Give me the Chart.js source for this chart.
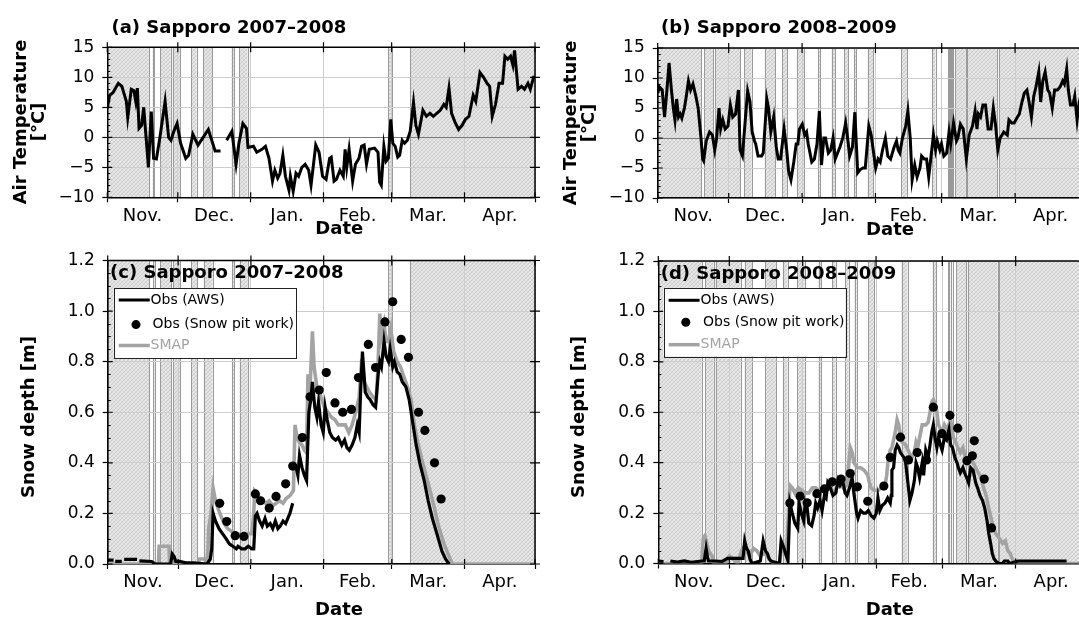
<!DOCTYPE html>
<html>
<head>
<meta charset="utf-8">
<script src="https://cdn.jsdelivr.net/npm/chart.js@4.4.0/dist/chart.umd.min.js"></script>
<style>
  html, body { margin: 0; padding: 0; background: #fff; overflow: hidden; width: 1079px; height: 619px; }
  .panel { position: absolute; }
</style>
</head>
<body>
<div class="panel" style="left:0;top:0"><canvas id="pa" width="540" height="240"></canvas></div>
<div class="panel" style="left:540px;top:0"><canvas id="pb" width="560" height="240"></canvas></div>
<div class="panel" style="left:0;top:240px"><canvas id="pc" width="540" height="379"></canvas></div>
<div class="panel" style="left:540px;top:240px"><canvas id="pd" width="560" height="379"></canvas></div>
<script>
// ---- time axis: days counted from 1 November ----
const MONTH_LABELS = ['Nov.', 'Dec.', 'Jan.', 'Feb.', 'Mar.', 'Apr.'];
const MONTH_STARTS_0708 = [0, 30, 61, 92, 121, 152, 182];
const MONTH_STARTS_0809 = [0, 30, 61, 92, 120, 151, 181];

const TEMP_TICKS = [-10, -5, 0, 5, 10, 15];
const SNOW_TICKS = [0, 0.2, 0.4, 0.6, 0.8, 1.0, 1.2];

// ---- periods shaded in grey ----
const SHADE_0708 = [[0, 17.7], [19.3, 20.0], [22.4, 27.0], [27.8, 30.9], [35.6, 38.0], [40.9, 44.7],
  [52.9, 53.9], [56.2, 59.7], [119.6, 121.0], [128.9, 182]];
const SHADE_0809 = [[0, 18.3], [19.7, 23.4], [24.2, 34.8], [36.5, 39.7], [45.2, 49.7],
  [52.6, 54.6], [58.8, 61.8], [67.7, 68.7], [73.5, 74.9], [78.9, 80.4], [82.9, 83.8], [88.7, 91.1],
  [102.8, 105.3], [115.9, 117.4], [122.6, 122.9], [123.5, 123.8], [124.4, 124.7], [125.8, 130.2],
  [130.7, 143.4], [144.1, 181]];

// ---- daily mean air temperature, Sapporo 2007-2008 ----
const TEMP_0708_DAY = [0, 1.0, 2.5, 4.7, 6.2, 8.1, 8.7, 10.2, 11.3, 12.1, 12.8, 13.5, 14.6, 15.5, 16.5, 17.5,
  18.7, 19.7, 20.9, 22.4, 24.6, 26.1, 27.1, 28.3, 29.7, 31.2, 33.4, 34.6, 36.4, 38.6, 40.8, 43.0, 45.9, 48.2,
  49.5, 50.8, 53.0, 54.8, 56.0, 57.7, 59.2, 59.9, 62.2, 63.6, 65.8, 67.3, 68.8, 70.3, 71.3, 72.5, 73.5, 74.7,
  75.8, 77.3, 77.9, 79.1, 80.3, 81.4, 82.8, 84.2, 85.7, 86.7, 88.7, 90.1, 91.6, 93.1, 94.6, 95.3, 96.5, 97.5,
  99.0, 100.4, 101.2, 101.9, 102.9, 104.4, 105.6, 107.1, 108.2, 109.3, 110.3, 111.5, 113.7, 115.2, 115.9,
  116.6, 117.7, 118.6, 119.6, 120.6, 121.5, 122.5, 123.6, 124.4, 125.5, 126.5, 127.7, 128.9, 130.3, 131.3,
  132.4, 133.6, 134.3, 135.8, 137.3, 138.7, 140.2, 141.7, 143.2, 144.2, 145.4, 146.5, 148.0, 149.5, 151.0,
  152.4, 153.9, 155.7, 156.8, 158.6, 160.1, 161.6, 162.7, 163.8, 165.2, 166.7, 168.2, 169.2, 170.4, 171.6,
  172.6, 173.3, 174.8, 176.3, 177.5, 179.0, 180.0, 181.4, 182];
const TEMP_0708 = [4.8, 7, 7.5, 9, 8.5, 6, 3.3, 8, 7.8, 6, 8.2, 1.5, 2, 5, 0, -5,
  4.3, -3.5, -3.6, 0, 6, 0, -0.5, 1, 2.3, -1, -3.5, -3, 0.5, -1.3, 0, 1.3, -2.3, -2.3,
  null, -0.5, 1, -4.5, -1, 2.3, 1.5, -1.7, -1.5, -2.5, -2, -1.5, -3.5, -7.3, -5.5, -6.8, -6, -3,
  -6.5, -8.8, -6.5, -9, -6, -6.5, -5, -4.5, -5.5, -8, -1.3, -2.5, -6.5, -7, -3.5, -3.3, -7.3, -7,
  -5.5, -6.5, -2, -5, -2, -7.3, -4.5, -3.5, -1.5, -1.3, -4.5, -2, -1.8, -2.5, -7.5,
  -8, -1.5, -4, -3.5, 3, -1, -1.5, -3.3, -3, -0.5, -1, -0.5, 1, 5.8, 2,
  0.5, 3, 4.5, 3.5, 4, 3.5, 4, 4.5, 5.5, 5, 8.2, 4, 2.5, 1.3, 2,
  3, 3.5, 7, 6, 10.8, 10, 9, 8.5, 3.5, 5.5, 9, 9, 13.5, 13, 13.5,
  12, 14.5, 8, 8.5, 8, 9, 8, 10, 10];

// ---- daily mean air temperature, Sapporo 2008-2009 ----
const TEMP_0809_DAY = [0, 0.7, 1.9, 2.9, 3.9, 4.8, 5.8, 6.6, 7.3, 8.0, 8.8, 9.5, 10.2, 11.3, 12.1, 13.0, 13.9,
  14.9, 16.1, 17.1, 18.3, 19.0, 19.4, 20.5, 21.9, 23.1, 24.1, 24.9, 25.9, 26.6, 27.5, 28.5, 29.7, 30.7, 31.7,
  32.9, 34.1, 34.8, 35.8, 37.0, 38.0, 39.0, 39.9, 40.9, 41.4, 42.4, 43.9, 44.6, 46.1, 46.8, 47.8, 49.0, 50.1,
  50.9, 51.9, 53.4, 54.5, 55.3, 56.3, 57.5, 58.5, 59.2, 59.9, 61.1, 62.1, 62.9, 63.6, 65.1, 66.2, 67.3, 68.3,
  69.2, 70.2, 70.9, 72.1, 73.1, 74.1, 75.0, 76.0, 77.0, 78.2, 79.4, 80.4, 81.1, 82.3, 83.3, 84.5, 85.5, 86.7,
  87.7, 89.2, 90.2, 91.4, 92.1, 93.1, 94.0, 95.0, 96.2, 97.2, 98.4, 99.9, 100.9, 101.6, 102.3, 103.4, 104.8,
  105.7, 106.7, 107.5, 108.6, 109.6, 110.8, 111.5, 112.6, 113.6, 114.5, 115.5, 116.5, 117.4, 118.1, 119.2,
  119.9, 120.9, 122.1, 123.1, 123.8, 125.0, 126.2, 126.8, 127.9, 129.1, 130.4, 131.6, 133.0, 134.1, 134.9,
  135.5, 136.4, 137.4, 138.5, 139.6, 140.8, 141.8, 142.8, 143.7, 144.7, 146.2, 147.7, 148.4, 149.6, 150.6,
  152.0, 152.8, 153.9, 154.9, 156.0, 156.9, 157.9, 158.9, 159.8, 161.0, 161.8, 162.7, 163.7, 164.8, 165.6,
  166.7, 167.7, 168.9, 170.0, 171.1, 171.8, 172.8, 173.5, 174.4, 175.4, 176.2, 177.2, 178.1, 178.8];
const TEMP_0809 = [7.5, 8.5, 8, 3.5, 8, 12.5, 8, 5, 3, 6.5, 3.5, 4, 3.3, 5, 7, 9.5, 8,
  9, 7, 5, 0, -3.5, -3.8, -0.5, 1, 0.5, -2, 0, 5, 1.5, 3, 1.5, 2, 5.5, 3.5,
  4, 8, -2, -3, 3, 7.8, 6, 1, -0.5, -1, -3, -3, -2.5, 6.5, 5, 1, 3.5, -1.5,
  -3.5, -3.5, 1.5, -2, -5.5, -7, -4, -1, -1, 1.5, 2.3, 0.5, 1, -1, -4, -3.5, -1, 4.5,
  -4.5, 0, 0, -2.5, -2, 0, -3.5, -2.5, -1.5, 0, 2.5, -0.5, -3, -1.5, 4.3, -5.8, -5.3, -5,
  -5, 2, 0.5, -3, -5, -3.5, -4, -2, 0, -3, -3.5, -1.5, -0.5, -2, -2.5, 0, 2,
  4.5, 0, -7, -4.5, -6.5, -5, -3, -3.5, -3.5, -6.5, -3, 0.5, -2, -0.5, -2,
  -1, -3, -2.5, 1, -1, 2.5, -0.5, 0, 2.3, 1.5, -3.5, 0.5, 2, 4.5, 1.5,
  4, 3.5, 5.5, 5.5, 1.5, 1.5, 5, 2, -2, 0, 1, 0.5, 3, 2.5, 2.5,
  3.5, 4, 6, 7.5, 8, 6, 3.5, 7, 8.5, 11, 6, 9.5, 11, 8, 7.5,
  5, 8, 8, 8.5, 9.5, 9, 11.5, 8, 5.5, 5.5, 7, 3, 6, 7];

// ---- snow depth [m], Sapporo 2007-2008 ----
const AWS_0708_DAY = [0, 2.5, 2.6, 3.2, 6.0, 6.1, 7.0, 12.5, 12.6, 13.5, 18.7, 20.2, 26.8, 27.5, 28.3, 29.0,
  30.5, 33.4, 36.4, 42.3, 43.7, 44.3, 44.9, 45.9, 47.4, 48.9, 50.4, 51.8, 53.3, 54.8, 55.5, 57.0, 58.5, 59.9,
  61.4, 62.2, 62.9, 63.6, 64.7, 65.8, 67.0, 68.0, 69.2, 70.3, 71.4, 72.5, 73.5, 74.7, 75.8, 77.6, 78.8, 79.5,
  80.3, 81.0, 81.7, 82.8, 83.8, 84.7, 85.7, 86.5, 87.2, 88.2, 89.1, 89.8, 90.9, 91.8, 92.6, 93.5, 94.6, 95.7,
  97.1, 98.2, 99.7, 100.9, 101.9, 102.9, 104.1, 105.3, 106.3, 107.1, 107.8, 108.5, 109.7, 110.8, 111.8,
  113.0, 114.1, 115.2, 115.9, 116.6, 117.7, 118.6, 119.6, 120.3, 121.4, 122.1, 123.3, 124.4, 125.5, 127.0,
  128.4, 129.9, 131.4, 132.9, 134.8, 136.5, 138.3, 140.2, 142.4, 143.9, 145.4];
const AWS_0708 = [0.015, 0.015, null, 0.01, 0.01, null, 0.018, 0.018, null, 0.012, 0.01, 0, 0, 0.04, 0.03, 0.01,
  0.01, 0.005, 0.005, 0, 0.02, 0.06, 0.2, 0.17, 0.14, 0.12, 0.1, 0.08, 0.07, 0.06, 0.07, 0.06, 0.06, 0.07,
  0.06, 0.06, 0.19, 0.2, 0.17, 0.15, 0.18, 0.15, 0.16, 0.14, 0.17, 0.14, 0.15, 0.17, 0.16, 0.2, 0.24, null,
  0.38, 0.35, 0.43, 0.38, 0.35, 0.33, 0.6, 0.65, 0.72, 0.62, 0.58, 0.64, 0.55, 0.52, 0.62, 0.57, 0.52, 0.5,
  0.49, 0.5, 0.47, 0.49, 0.46, 0.45, 0.47, 0.5, 0.55, 0.52, 0.7, 0.84, 0.68, 0.66, 0.65,
  0.63, 0.62, 0.75, 0.8, 0.78, 0.88, 0.82, 0.8, 0.85, 0.78, 0.8, 0.76, 0.75, 0.72, 0.7,
  0.65, 0.56, 0.47, 0.4, 0.33, 0.25, 0.18, 0.12, 0.05, 0.02, 0.0];

const SMAP_0708_DAY = [0, 21.6, 21.9, 26.1, 26.4, 38.6, 39.0, 41.5, 42.0, 42.7, 43.0, 44.0, 44.9, 45.9, 47.0,
  48.2, 49.6, 51.1, 52.6, 54.0, 55.5, 57.0, 58.5, 61.4, 62.2, 62.6, 63.6, 64.7, 65.8, 67.3, 68.8, 70.3, 71.7,
  73.2, 74.7, 76.1, 77.6, 79.1, 79.8, 80.6, 81.7, 82.8, 83.8, 84.7, 85.3, 86.2, 87.2, 87.9, 89.1, 90.1, 91.2,
  92.3, 93.8, 95.3, 96.8, 98.2, 99.7, 101.2, 102.7, 104.1, 105.6, 107.1, 108.2, 109.3, 110.3, 111.5, 113.0,
  114.4, 115.2, 115.9, 116.6, 117.7, 118.6, 119.6, 120.6, 121.8, 123.3, 124.7, 126.2, 127.7, 129.2, 130.6,
  132.1, 133.6, 135.3, 137.3, 139.2, 140.9, 143.2, 145.4, 146.8, 182];
const SMAP_0708 = [0, 0, 0.07, 0.07, 0, 0, 0.02, 0.02, 0, 0.05, 0.14, 0.2, 0.3, 0.25, 0.22,
  0.19, 0.16, 0.14, 0.13, 0.12, 0.12, 0.11, 0.12, 0.12, 0.2, 0.29, 0.28, 0.26, 0.25, 0.24, 0.25, 0.23, 0.24,
  0.25, 0.24, 0.26, 0.27, 0.29, 0.55, 0.5, 0.48, 0.47, 0.45, 0.44, 0.75, 0.7, 0.92, 0.78, 0.7, 0.68, 0.65,
  0.62, 0.6, 0.58, 0.57, 0.55, 0.55, 0.55, 0.52, 0.55, 0.6, 0.66, 0.81, 0.72, 0.7, 0.68, 0.66,
  0.65, 0.8, 0.99, 0.9, 0.95, 0.88, 0.88, 0.93, 0.84, 0.8, 0.78, 0.74, 0.7, 0.65, 0.55,
  0.48, 0.42, 0.36, 0.29, 0.22, 0.15, 0.08, 0.03, 0, 0];

const PIT_0708_DAY = [47.7, 50.7, 54.3, 58.0, 62.9, 65.1, 68.8, 71.7, 75.8, 78.8, 82.9, 86.2, 90.1, 93.1,
  96.8, 100.1, 103.8, 106.8, 111.0, 114.1, 118.1, 121.4, 125.0, 128.1, 132.4, 135.1, 139.2, 142.0];
const PIT_0708 = [0.24, 0.168, 0.112, 0.109, 0.277, 0.25, 0.221, 0.267, 0.317, 0.387, 0.5, 0.661, 0.688, 0.757,
  0.637, 0.6, 0.611, 0.737, 0.868, 0.777, 0.957, 1.037, 0.888, 0.817, 0.6, 0.528, 0.4, 0.257];

// ---- snow depth [m], Sapporo 2008-2009 ----
const AWS_0809_DAY = [0, 2.2, 2.3, 5.1, 8.0, 11.0, 13.9, 18.3, 19.4, 20.2, 20.9, 21.2, 24.1, 27.0, 29.2, 31.4,
  35.8, 36.5, 37.3, 38.0, 38.7, 39.5, 43.1, 44.3, 45.3, 46.1, 46.8, 47.5, 51.2, 51.9, 53.1, 54.1, 54.8, 55.6,
  56.6, 57.7, 58.9, 59.5, 60.4, 61.4, 62.1, 62.9, 63.6, 64.8, 65.8, 66.5, 67.3, 68.3, 69.2, 70.2, 70.9, 71.6,
  72.7, 73.8, 75.0, 76.0, 76.8, 77.9, 78.9, 79.7, 80.8, 81.9, 82.6, 83.8, 84.4, 85.5, 86.7, 87.7, 88.7, 89.9,
  91.1, 92.1, 92.8, 93.6, 94.6, 95.8, 96.9, 98.0, 98.4, 98.7, 99.4, 100.1, 100.9, 101.6, 102.3, 103.8, 104.5,
  105.7, 106.3, 107.2, 108.2, 108.9, 109.6, 110.4, 111.5, 112.1, 113.0, 114.0, 114.8, 115.5, 116.2, 116.9,
  117.7, 118.4, 119.2, 119.9, 120.9, 121.8, 122.8, 123.5, 124.3, 125.3, 126.2, 126.8, 127.6, 128.7, 129.4,
  130.3, 131.1, 132.0, 133.0, 134.1, 134.9, 135.9, 137.0, 137.9, 138.9, 139.6, 140.4, 141.1, 141.8, 142.5,
  144.0, 145.5, 146.2, 147.7, 148.4, 152.0, 154.2, 161.5, 165.9, 172.5];
const AWS_0809 = [0.01, 0.008, null, 0.01, 0.006, 0.01, 0.005, 0.01, 0.01, 0.06, 0.02, 0.01, 0.01, 0.008, 0.02, 0.02,
  0.02, 0.09, 0.06, 0.05, 0.02, 0.0, 0.01, 0.09, 0.05, 0.04, 0.02, 0.01, 0.0, 0.09, 0.06, 0.03, 0.01, 0.24,
  0.2, 0.16, 0.14, 0.24, 0.2, 0.17, 0.24, 0.22, 0.16, 0.15, 0.19, 0.24, 0.22, 0.25, 0.21, 0.27, 0.26, 0.32,
  0.3, 0.27, 0.28, 0.33, 0.31, 0.33, 0.28, 0.27, 0.3, 0.34, 0.28, 0.2, 0.18, 0.21, 0.2, 0.2, 0.21, 0.19,
  0.18, 0.2, 0.26, 0.21, 0.23, 0.24, 0.26, 0.24, 0.27, 0.37, 0.38, 0.45, 0.47, 0.46, 0.44, 0.42, 0.4,
  0.3, 0.25, 0.28, 0.33, 0.4, 0.38, 0.34, 0.4, 0.35, 0.45, 0.42, 0.47, 0.52, 0.55, 0.5,
  0.46, 0.5, 0.47, 0.45, 0.5, 0.49, 0.53, 0.47, 0.46, 0.42, 0.4, 0.38, 0.36, 0.38, 0.36,
  0.34, 0.32, 0.38, 0.37, 0.32, 0.3, 0.27, 0.25, 0.22, 0.17, 0.12, 0.08, 0.04, 0.02, 0.01,
  0.0, 0.0, 0.01, 0.01, 0.0, 0.01, 0.01, 0.01, 0.01, 0.01];

const SMAP_0809_DAY = [0, 18.3, 19.0, 19.7, 20.5, 21.2, 22.7, 23.4, 28.5, 29.2, 30.0, 31.4, 33.6, 35.1, 35.8,
  37.3, 38.7, 40.2, 41.7, 43.1, 44.6, 46.1, 47.5, 49.0, 51.2, 51.9, 53.4, 54.5, 55.6, 56.6, 57.7, 59.2, 60.7,
  62.1, 63.6, 65.1, 66.5, 68.0, 69.4, 70.9, 72.4, 73.8, 75.3, 76.8, 78.2, 79.7, 81.1, 81.9, 82.6, 84.1, 85.5,
  87.0, 88.5, 89.2, 89.9, 91.4, 92.8, 94.3, 95.8, 96.5, 97.2, 98.0, 98.7, 100.1, 100.9, 101.6, 102.3, 103.1,
  104.5, 106.0, 107.2, 108.2, 108.9, 109.6, 110.4, 111.5, 113.0, 114.0, 114.8, 115.5, 116.2, 117.4, 118.4,
  119.9, 120.9, 122.1, 123.5, 124.7, 125.7, 126.5, 127.6, 128.7, 129.7, 130.8, 132.0, 133.0, 134.1, 135.2,
  136.4, 137.4, 138.5, 139.6, 141.1, 142.5, 144.0, 145.5, 146.6, 147.7, 148.7, 149.9, 151.0, 181];
const SMAP_0809 = [0, 0, 0.1, 0.11, 0.08, 0.05, 0.03, 0.0, 0.0, 0.02, 0.03, 0.02, 0.0, 0.05, 0.06,
  0.05, 0.03, 0.06, 0.05, 0.03, 0.04, 0.03, 0.01, 0.0, 0.0, 0.05, 0.05, 0.1, 0.31, 0.3, 0.28, 0.3, 0.29,
  0.28, 0.28, 0.3, 0.3, 0.29, 0.3, 0.29, 0.3, 0.28, 0.3, 0.32, 0.3, 0.31, 0.46, 0.44, 0.4, 0.38, 0.38,
  0.37, 0.35, 0.32, 0.3, 0.29, 0.29, 0.3, 0.31, 0.35, 0.42, 0.45, 0.46, 0.52, 0.57, 0.55, 0.5, 0.48,
  0.47, 0.44, 0.42, 0.44, 0.48, 0.46, 0.5, 0.55, 0.55, 0.56, 0.6, 0.64, 0.65, 0.62, 0.55,
  0.52, 0.55, 0.53, 0.57, 0.5, 0.48, 0.46, 0.44, 0.46, 0.42, 0.4, 0.42, 0.4, 0.38, 0.36,
  0.34, 0.3, 0.27, 0.22, 0.16, 0.12, 0.1, 0.08, 0.09, 0.05, 0.04, 0.01, 0.0, 0.0];

const PIT_0809_DAY = [55.6, 59.9, 62.9, 67.0, 70.2, 73.5, 77.2, 81.1, 84.1, 88.5, 95.3, 98.0, 102.3, 105.7,
  109.4, 113.3, 116.2, 119.9, 123.2, 126.5, 130.4, 132.7, 133.5, 137.7, 140.8];
const PIT_0809 = [0.24, 0.267, 0.241, 0.277, 0.296, 0.324, 0.335, 0.357, 0.304, 0.247, 0.307, 0.421, 0.501,
  0.411, 0.44, 0.411, 0.62, 0.515, 0.588, 0.537, 0.408, 0.427, 0.487, 0.335, 0.141];

// ---------------------------------------------------------------
const FONT = 'DejaVu Sans';
const SMAP_GREY = '#a3a3a3';
Chart.defaults.font.family = FONT;

function points(days, vals) {
  return days.map((d, i) => ({ x: d, y: vals[i] }));
}

// light grey hatch used for the shaded periods
function hatchPattern(ctx) {
  const t = document.createElement('canvas');
  t.width = 4; t.height = 4;
  const c = t.getContext('2d');
  c.fillStyle = '#e8e8e8';
  c.fillRect(0, 0, 4, 4);
  c.fillStyle = '#c9c9c9';
  for (let i = 0; i < 4; i++) c.fillRect(i, 3 - i, 1, 1);
  c.fillStyle = '#d8d8d8';
  for (let i = 0; i < 4; i++) c.fillRect(i, i, 1, 1);
  return ctx.createPattern(t, 'repeat');
}

function makePanel(spec) {
  const starts = spec.monthStarts;
  const mids = starts.slice(0, -1).map((s, i) => (s + starts[i + 1]) / 2);
  const labelAt = {};
  mids.forEach((m, i) => { labelAt[String(m)] = MONTH_LABELS[i]; });
  const xTicks = starts.concat(mids).sort((a, b) => a - b);
  const isStart = v => starts.includes(v);
  const A = spec.area;

  const shadePlugin = {
    id: 'shade',
    beforeDraw(chart) {
      const { ctx, chartArea: ca, scales: { x } } = chart;
      ctx.save();
      ctx.beginPath();
      ctx.rect(ca.left, ca.top, ca.right - ca.left, ca.bottom - ca.top);
      ctx.clip();
      ctx.fillStyle = hatchPattern(ctx);
      spec.shade.forEach(([s, e]) => {
        const x0 = x.getPixelForValue(s), x1 = x.getPixelForValue(e);
        ctx.fillRect(x0, ca.top, x1 - x0, ca.bottom - ca.top);
      });
      ctx.strokeStyle = '#9a9a9a';
      ctx.lineWidth = 1;
      spec.shade.forEach(([s, e]) => {
        [s, e].forEach(v => {
          const px = Math.round(x.getPixelForValue(v)) + 0.5;
          ctx.beginPath();
          ctx.moveTo(px, ca.top);
          ctx.lineTo(px, ca.bottom);
          ctx.stroke();
        });
      });
      ctx.restore();
    }
  };

  const framePlugin = {
    id: 'frame',
    afterDraw(chart) {
      const { ctx, chartArea: ca, scales: { x, y } } = chart;
      ctx.save();
      ctx.strokeStyle = '#000';
      ctx.lineWidth = 1.5;
      ctx.beginPath();
      ctx.moveTo(ca.left, ca.top); ctx.lineTo(ca.right, ca.top); ctx.lineTo(ca.right, ca.bottom);
      ctx.stroke();
      // month-boundary ticks crossing the bottom and top axes
      ctx.lineWidth = 1.2;
      starts.forEach(v => {
        const px = x.getPixelForValue(v);
        ctx.beginPath();
        ctx.moveTo(px, ca.bottom); ctx.lineTo(px, ca.bottom - 5);
        ctx.moveTo(px, ca.top - 5); ctx.lineTo(px, ca.top + 5);
        ctx.stroke();
      });
      // value ticks: inside on the left, crossing on the right
      spec.yTicks.forEach(v => {
        const py = y.getPixelForValue(v);
        ctx.beginPath();
        ctx.moveTo(ca.left, py); ctx.lineTo(ca.left + 5, py);
        ctx.moveTo(ca.right - 5, py); ctx.lineTo(ca.right + 5, py);
        ctx.stroke();
      });
      ctx.lineWidth = 1;
      spec.yMinor.forEach(v => {
        const py = Math.round(y.getPixelForValue(v)) + 0.5;
        ctx.beginPath();
        ctx.moveTo(ca.left, py); ctx.lineTo(ca.left + 3, py);
        ctx.stroke();
      });

      ctx.fillStyle = '#000';
      // panel title
      ctx.font = 'bold 18px "' + FONT + '"';
      ctx.textAlign = 'left';
      ctx.textBaseline = 'middle';
      ctx.fillText(spec.title.text, spec.title.x, spec.title.y);
      // axis titles
      ctx.font = 'bold 18px "' + FONT + '"';
      ctx.textAlign = 'center';
      ctx.fillText('Date', spec.dateTitle.x, spec.dateTitle.y);
      spec.yTitle.forEach(t => {
        ctx.save();
        ctx.translate(t.x, t.y);
        ctx.rotate(-Math.PI / 2);
        ctx.fillText(t.text, 0, 0);
        ctx.restore();
      });
      // legend
      if (spec.legend) {
        const L = spec.legend;
        ctx.fillStyle = '#fff';
        ctx.fillRect(L.left, L.top, L.right - L.left, L.bottom - L.top);
        ctx.strokeStyle = '#222';
        ctx.lineWidth = 1;
        ctx.strokeRect(Math.round(L.left) + 0.5, Math.round(L.top) + 0.5,
          Math.round(L.right - L.left), Math.round(L.bottom - L.top));
        ctx.font = '14px "' + FONT + '"';
        ctx.textAlign = 'left';
        ctx.textBaseline = 'middle';
        // Obs (AWS)
        ctx.strokeStyle = '#000'; ctx.lineWidth = 3;
        ctx.beginPath(); ctx.moveTo(L.sx0, L.y1); ctx.lineTo(L.sx1, L.y1); ctx.stroke();
        ctx.fillStyle = '#000';
        ctx.fillText('Obs (AWS)', L.tx1, L.y1);
        // Obs (Snow pit work)
        ctx.beginPath(); ctx.arc(L.dotX, L.y2, 4.5, 0, Math.PI * 2); ctx.fill();
        ctx.fillText('Obs (Snow pit work)', L.tx2, L.y2);
        // SMAP
        ctx.strokeStyle = SMAP_GREY; ctx.lineWidth = 3.5;
        ctx.beginPath(); ctx.moveTo(L.sx0, L.y3); ctx.lineTo(L.sx1, L.y3); ctx.stroke();
        ctx.fillStyle = SMAP_GREY;
        ctx.fillText('SMAP', L.tx1, L.y3);
      }
      ctx.restore();
    }
  };

  return new Chart(document.getElementById(spec.id), {
    type: 'line',
    data: { datasets: spec.datasets },
    options: {
      responsive: false,
      animation: false,
      devicePixelRatio: 1,
      layout: { padding: { left: 0, top: A.top, right: spec.width - A.right, bottom: 0 } },
      plugins: { legend: { display: false }, tooltip: { enabled: false } },
      elements: { point: { radius: 0 }, line: { tension: 0 } },
      scales: {
        x: {
          type: 'linear', min: 0, max: starts[starts.length - 1],
          afterFit: s => { s.height = spec.height - A.bottom; },
          afterBuildTicks: s => { s.ticks = xTicks.map(v => ({ value: v })); },
          ticks: {
            autoSkip: false, maxRotation: 0, minRotation: 0, padding: 3,
            color: '#000', font: { family: FONT, size: 18 },
            callback: v => labelAt[String(v)] || ''
          },
          grid: {
            color: c => (c.tick && isStart(c.tick.value)) ? '#cdcdcd' : 'rgba(0,0,0,0)',
            tickColor: c => (c.tick && isStart(c.tick.value)) ? '#000' : 'rgba(0,0,0,0)',
            tickLength: 5, tickWidth: 1.2, lineWidth: 1
          },
          border: { display: true, color: '#000', width: 1.5 }
        },
        y: {
          type: 'linear', min: spec.yTicks[0], max: spec.yTicks[spec.yTicks.length - 1],
          afterFit: s => { s.width = A.left; },
          afterBuildTicks: s => { s.ticks = spec.yTicks.map(v => ({ value: v })); },
          ticks: {
            padding: 8, color: '#000', font: { family: FONT, size: 17 },
            callback: spec.yLabel
          },
          grid: {
            color: c => (c.tick && c.tick.value === 0 && spec.zeroLine) ? '#7a7a7a' : '#cdcdcd',
            tickColor: '#000', tickLength: 5, tickWidth: 1.2, lineWidth: 1
          },
          border: { display: true, color: '#000', width: 1.5 }
        }
      }
    },
    plugins: [shadePlugin, framePlugin]
  });
}

const tempLabel = v => (v < 0 ? '\u2212' + Math.abs(v) : String(v));
const snowLabel = v => Number(v).toFixed(1);
const TEMP_MINOR = [-9, -8, -7, -6, -4, -3, -2, -1, 1, 2, 3, 4, 6, 7, 8, 9, 11, 12, 13, 14];
const SNOW_MINOR = [0.05, 0.1, 0.15, 0.25, 0.3, 0.35, 0.45, 0.5, 0.55, 0.65, 0.7, 0.75, 0.85, 0.9, 0.95,
  1.05, 1.1, 1.15];

function tempSet(days, vals) {
  return [{ data: points(days, vals), borderColor: '#000', borderWidth: 3, spanGaps: false, order: 1 }];
}
function snowSets(awsD, aws, smapD, smap, pitD, pit) {
  return [
    { data: points(pitD, pit), showLine: false, pointRadius: 4.6, pointBackgroundColor: '#000',
      pointBorderWidth: 0, order: 0 },
    { data: points(awsD, aws), borderColor: '#000', borderWidth: 3.2, spanGaps: false, order: 1 },
    { data: points(smapD, smap), borderColor: SMAP_GREY, borderWidth: 3.6, order: 2 }
  ];
}

makePanel({
  id: 'pa', width: 540, height: 240,
  area: { left: 107.3, right: 535, top: 47.3, bottom: 197.3 },
  monthStarts: MONTH_STARTS_0708, shade: SHADE_0708,
  yTicks: TEMP_TICKS, yMinor: TEMP_MINOR, yLabel: tempLabel, zeroLine: true,
  title: { text: '(a) Sapporo 2007\u20132008', x: 111.4, y: 28 },
  dateTitle: { x: 339.3, y: 229.5 },
  yTitle: [{ text: 'Air Temperature', x: 21, y: 122 }, { text: '[\u00b0C]', x: 39.5, y: 122 }],
  datasets: tempSet(TEMP_0708_DAY, TEMP_0708)
});

makePanel({
  id: 'pb', width: 560, height: 240,
  area: { left: 117.7, right: 546.1, top: 48, bottom: 198 },
  monthStarts: MONTH_STARTS_0809, shade: SHADE_0809,
  yTicks: TEMP_TICKS, yMinor: TEMP_MINOR, yLabel: tempLabel, zeroLine: true,
  title: { text: '(b) Sapporo 2008\u20132009', x: 121.1, y: 28.3 },
  dateTitle: { x: 350, y: 230 },
  yTitle: [{ text: 'Air Temperature', x: 31, y: 123 }, { text: '[\u00b0C]', x: 49.5, y: 123 }],
  datasets: tempSet(TEMP_0809_DAY, TEMP_0809)
});

makePanel({
  id: 'pc', width: 540, height: 379,
  area: { left: 107.7, right: 535, top: 20.5, bottom: 324 },
  monthStarts: MONTH_STARTS_0708, shade: SHADE_0708,
  yTicks: SNOW_TICKS, yMinor: SNOW_MINOR, yLabel: snowLabel, zeroLine: false,
  title: { text: '(c) Sapporo 2007\u20132008', x: 110.1, y: 33 },
  dateTitle: { x: 339, y: 370 },
  yTitle: [{ text: 'Snow depth [m]', x: 29, y: 177 }],
  legend: { left: 113.6, right: 295.5, top: 48.2, bottom: 118, sx0: 118.7, sx1: 149.8, tx1: 150.5,
    dotX: 136, tx2: 152.6, y1: 60, y2: 84.6, y3: 105.5 },
  datasets: snowSets(AWS_0708_DAY, AWS_0708, SMAP_0708_DAY, SMAP_0708, PIT_0708_DAY, PIT_0708)
});

makePanel({
  id: 'pd', width: 560, height: 379,
  area: { left: 118.3, right: 546.7, top: 21, bottom: 323.5 },
  monthStarts: MONTH_STARTS_0809, shade: SHADE_0809,
  yTicks: SNOW_TICKS, yMinor: SNOW_MINOR, yLabel: snowLabel, zeroLine: false,
  title: { text: '(d) Sapporo 2008\u20132009', x: 120.7, y: 34.4 },
  dateTitle: { x: 349.7, y: 370 },
  yTitle: [{ text: 'Snow depth [m]', x: 39.2, y: 177 }],
  legend: { left: 123.5, right: 305.8, top: 47.9, bottom: 116.5, sx0: 128.6, sx1: 159.6, tx1: 160.6,
    dotX: 145.8, tx2: 163, y1: 60.3, y2: 82.2, y3: 104.7 },
  datasets: snowSets(AWS_0809_DAY, AWS_0809, SMAP_0809_DAY, SMAP_0809, PIT_0809_DAY, PIT_0809)
});
</script>
</body>
</html>
